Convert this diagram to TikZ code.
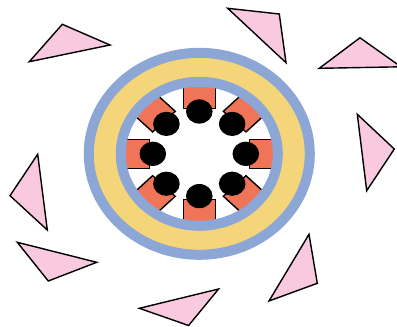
\documentclass[tikz,border=0pt]{standalone}
\definecolor{tripink}{HTML}{F8C9DF}
\definecolor{slotorange}{HTML}{F07558}
\definecolor{ringyellow}{HTML}{F5D57A}
\definecolor{ringblue}{HTML}{8CA6D5}
\tikzset{
  tri/.style={draw=black, fill=tripink, line width=1.4pt, line join=miter},
  ring/.style={draw=ringblue, line width=10pt},
  slot/.style={draw=black, fill=slotorange, line width=1.4pt},
  dot/.style={fill=black}
}
\begin{document}
\begin{tikzpicture}[x=1pt,y=-1pt]
\useasboundingbox (0,0) rectangle (397,327);
% triangles
\draw[tri] (62.3,24.3) -- (110,45) -- (29.3,61.7) -- cycle;
\draw[tri] (227.7,8.3) -- (279.3,14) -- (286,62.7) -- cycle;
\draw[tri] (360,37.8) -- (401,66.8) -- (319.3,68.3) -- cycle;
\draw[tri] (357.3,114.3) -- (394.3,149) -- (366.7,190.7) -- cycle;
\draw[tri] (309,234.3) -- (317.3,283.3) -- (269,301) -- cycle;
\draw[tri] (218.6,289) -- (188.6,325.5) -- (139.3,308.3) -- cycle;
\draw[tri] (17.3,242.3) -- (96.7,262.3) -- (48.3,281) -- cycle;
\draw[tri] (37.7,154.3) -- (47.3,230) -- (10,195.7) -- cycle;
% rings
\coordinate (c) at (199.3,153.8);
\draw[ring, fill=ringyellow] (c) ellipse [x radius=110.5, y radius=101];
\fill[white] (c) ellipse [x radius=78.5, y radius=72];
\begin{scope}
  \clip (c) ellipse [x radius=78.5, y radius=72];
  \begin{scope}[shift={(c)}, yscale=0.91]
    \foreach \a in {0,45,...,315} {
      \draw[slot, rotate=\a] (50,-16) rectangle (95,16);
    }
    \foreach \a in {0,45,...,315} {
      \fill[dot, rotate=\a] (46.5,0) circle [radius=13.3];
    }
  \end{scope}
\end{scope}
\draw[ring] (c) ellipse [x radius=78.5, y radius=72];
\end{tikzpicture}
\end{document}
